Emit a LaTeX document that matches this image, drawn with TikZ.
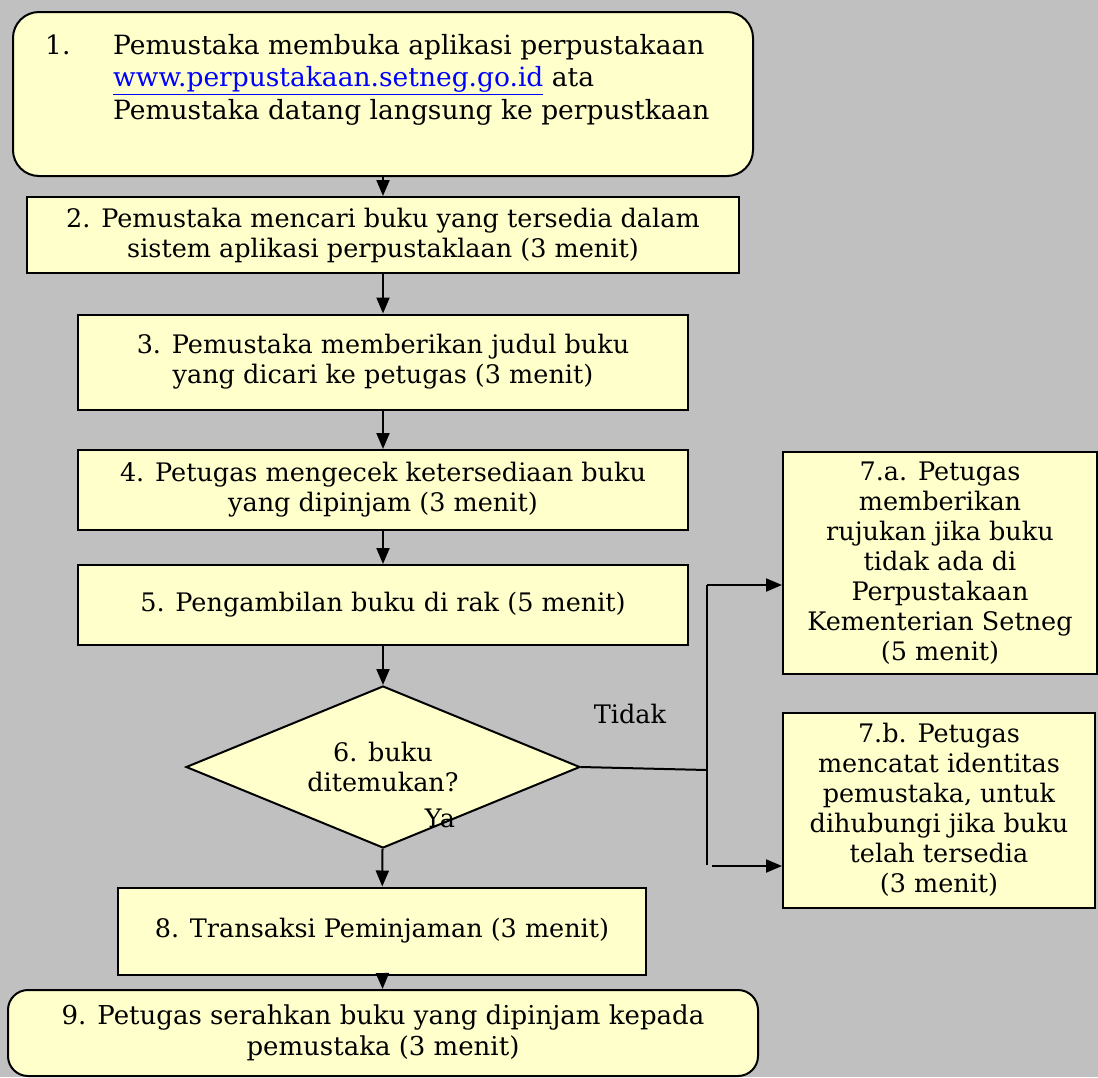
\documentclass[tikz,border=0pt]{standalone}
\usepackage{fontspec}
\setmainfont{DejaVu Serif}
\usetikzlibrary{arrows.meta,positioning,calc,shapes.geometric}
\definecolor{Back}{HTML}{C0C0C0}
\definecolor{Cream}{HTML}{FFFFCC}
\definecolor{Ink}{HTML}{000000}
\definecolor{Link}{HTML}{0000FF}
\tikzset{
  stepbox/.style={draw=Ink,fill=Cream,line width=2pt,align=center,inner sep=0pt,font=\fontsize{25.5}{30}\selectfont},
  endbox/.style={stepbox,rounded corners=20pt,font=\fontsize{26}{31}\selectfont},
  decision/.style={stepbox,diamond,aspect=2.43},
  tag/.style={font=\fontsize{25.5}{30}\selectfont,inner sep=0pt},
  flow/.style={-{Triangle[length=16pt,width=13pt]},draw=Ink,line width=2pt},
  plainline/.style={draw=Ink,line width=2pt}
}
\begin{document}
\begin{tikzpicture}[x=1pt,y=-1pt]
      \fill[Back] (0,0) rectangle (1098,1077);
      \useasboundingbox (0,0) rectangle (1098,1077);
      % main column
      \node[endbox,rounded corners=26pt,minimum width=740pt,minimum height=164pt] (s1) at (383,94) {};
      \node[tag,anchor=north west,align=left,font=\fontsize{26.5}{32.5}\selectfont] (s1txt) at (45,34)
        {\makebox[68pt][l]{1.}Pemustaka membuka aplikasi perpustakaan\\
         \hspace*{68pt}\textcolor{Link}{\underline{www.perpustakaan.setneg.go.id}} ata\\
         \hspace*{68pt}Pemustaka datang langsung ke perpustkaan};
      \node[stepbox,minimum width=712pt,minimum height=76pt] (s2) at (383,235)
        {2. Pemustaka mencari buku yang tersedia dalam\\sistem aplikasi perpustaklaan (3 menit)};
      \node[stepbox,minimum width=610pt,minimum height=95pt] (s3) at (383,362)
        {3. Pemustaka memberikan judul buku\\yang dicari ke petugas (3 menit)};
      \node[stepbox,minimum width=610pt,minimum height=80pt] (s4) at (383,490)
        {4. Petugas mengecek ketersediaan buku\\yang dipinjam (3 menit)};
      \node[stepbox,minimum width=610pt,minimum height=80pt] (s5) at (383,605)
        {5. Pengambilan buku di rak (5 menit)};
      \node[decision,minimum width=394pt,minimum height=162pt] (q6) at (383,767)
        {6. buku\\ditemukan?};
      \node[stepbox,minimum width=528pt,minimum height=87pt] (s8) at (382,931)
        {8. Transaksi Peminjaman (3 menit)};
      \node[endbox,minimum width=750pt,minimum height=86pt] (s9) at (383,1033)
        {9. Petugas serahkan buku yang dipinjam kepada\\pemustaka (3 menit)};
      % side branch
      \node[stepbox,minimum width=314pt,minimum height=222pt] (s7a) at (940,563)
        {7.a. Petugas\\memberikan\\rujukan jika buku\\tidak ada di\\Perpustakaan\\Kementerian Setneg\\(5 menit)};
      \node[stepbox,minimum width=312pt,minimum height=195pt] (s7b) at (939,810)
        {7.b. Petugas\\mencatat identitas\\pemustaka, untuk\\dihubungi jika buku\\telah tersedia\\(3 menit)};
      \draw[flow] (s1) -- (s2);
      \draw[flow] (s2) -- (s3);
      \draw[flow] (s3) -- (s4);
      \draw[flow] (s4) -- (s5);
      \draw[flow] (s5) -- (q6);
      \draw[flow] (q6) -- (s8);
      \draw[flow] (s8) -- (s9);
      \coordinate (split) at (707,770);
      \coordinate (up) at (707,585);
      \coordinate (down) at (707,865);
      \coordinate (downstart) at (712,866);
      \draw[plainline] (q6.east) -- (split);
      \draw[plainline] (up) -- (down);
      \draw[flow] (up) -- (up -| s7a.west);
      \draw[flow] (downstart) -- (downstart -| s7b.west);
      \node[tag] (no) at (630,714) {Tidak};
      \node[tag] (yes) at (440,818) {Ya};
\end{tikzpicture}
\end{document}
